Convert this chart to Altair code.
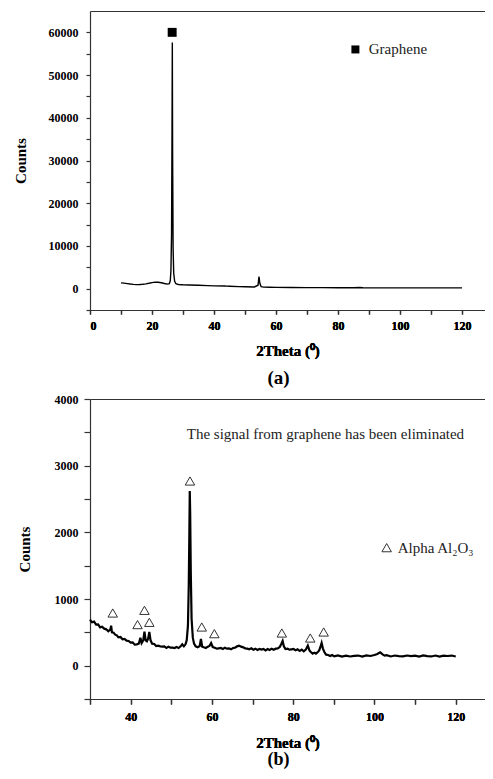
import altair as alt
import pandas as pd

# (a) XRD pattern, graphene powder
theta_a = [10, 11, 12, 13, 14, 15, 16, 17, 18, 19, 20, 21, 22, 23, 24, 25,
           25.6, 25.9, 26.1, 26.3, 26.45, 26.55, 26.65, 26.8, 27.0, 27.3, 27.7,
           28.5, 30, 32, 35, 38, 40, 43.5, 44, 45, 48, 50, 53, 54.2, 54.5, 54.8,
           55.2, 56, 58, 60, 65, 70, 75, 80, 85, 87, 88, 90, 95, 100, 110, 120]
counts_a = [1350, 1280, 1180, 1080, 1000, 950, 960, 1020, 1120, 1260, 1420, 1530, 1480, 1380, 1200, 1050,
            1150, 1900, 4200, 12500, 36000, 57600, 31000, 9500, 3600, 1700, 1150,
            980, 900, 850, 780, 700, 650, 620, 580, 550, 480, 450, 400, 800, 2850, 1200,
            450, 350, 320, 300, 270, 250, 240, 220, 210, 270, 200, 190, 185, 180, 175, 170]

# (b) XRD pattern after removing graphene
theta_b = [30, 30.5, 31, 31.5, 32, 32.5, 33, 33.5, 34, 34.5, 35, 35.2, 35.4, 35.8, 36.2, 36.6,
           37, 37.5, 38, 38.5, 39, 39.5, 40, 40.5, 41, 41.5, 42, 42.4, 42.7, 43.1, 43.4, 43.7,
           44.0, 44.3, 44.6, 44.9, 45.3, 45.8, 46.3, 46.8, 47.3, 47.8, 48.3, 48.8, 49.3, 49.8,
           50.3, 50.8, 51.3, 51.8, 52.3, 52.7, 53.1, 53.5, 53.8, 54.1, 54.3, 54.45, 54.55, 54.65,
           54.8, 55.0, 55.3, 55.6, 56.0, 56.5, 57.0, 57.3, 57.6, 58.0, 58.5, 59.0, 59.4, 59.8,
           60.2, 60.7, 61.2, 61.7, 62.2, 62.7, 63.2, 63.7, 64.2, 64.7, 65.2, 65.7, 66.2, 66.7,
           67.2, 67.7, 68.2, 68.7, 69.2, 69.7, 70.2, 70.7, 71.2, 71.7, 72.2, 72.7, 73.2, 73.7,
           74.2, 74.7, 75.2, 75.7, 76.2, 76.7, 77.1, 77.4, 77.7, 78.1, 78.6, 79.1, 79.6, 80.1,
           80.6, 81.1, 81.6, 82.1, 82.6, 83.1, 83.6, 84.0, 84.4, 84.8, 85.2, 85.6, 86.0, 86.4,
           86.8, 87.0, 87.3, 87.7, 88.1, 88.6, 89.1, 89.6, 90.1, 91, 92, 93, 94, 95, 96, 97,
           98, 99, 100, 100.7, 101.4, 102.0, 102.5, 103, 104, 105, 106, 107, 108, 109, 110,
           111, 112, 113, 114, 115, 116, 117, 118, 119, 120]
counts_b = [690, 650, 660, 615, 620, 575, 585, 555, 545, 515, 540, 600, 500, 495, 465, 455,
            425, 430, 395, 400, 375, 370, 345, 350, 315, 320, 330, 420, 340, 380, 510, 380,
            365, 405, 505, 380, 330, 325, 295, 300, 290, 285, 290, 265, 285, 270,
            270, 265, 280, 265, 290, 320, 290, 320, 380, 600, 1200, 2000, 2620, 2300,
            1400, 700, 420, 330, 290, 275, 295, 400, 285, 275, 265, 285, 295, 340,
            280, 270, 255, 260, 265, 250, 270, 255, 260, 245, 265, 270, 290, 300,
            285, 275, 260, 255, 245, 260, 240, 255, 235, 250, 240, 250, 230, 250,
            235, 255, 240, 255, 260, 280, 330, 370, 290, 250, 255, 240, 245, 250,
            230, 245, 220, 240, 215, 240, 300, 230, 200, 180, 195, 180, 200, 230,
            300, 340, 260, 200, 165, 160, 145, 160, 140, 155, 135, 150, 138, 148, 152, 136,
            155, 145, 160, 175, 200, 170, 150, 158, 138, 152, 142, 140, 152, 143, 150,
            136, 155, 142, 138, 152, 136, 150, 145, 152, 138]

# peak markers
tri_x = [35.6, 41.7, 43.4, 44.6, 54.6, 57.5, 60.6, 77.2, 84.2, 87.5]
tri_y = [790, 616, 830, 650, 2770, 580, 480, 490, 415, 505]

FONT = 'Liberation Serif'
INK = '#333333'

df_a = pd.DataFrame({'theta': theta_a, 'counts': counts_a})
df_b = pd.DataFrame({'theta': theta_b, 'counts': counts_b})
df_tri = pd.DataFrame({'theta': tri_x, 'counts': tri_y})


def make_axis(values, major, title, orient, tick=4, lpad=8, tpad=20):
    return alt.Axis(
        orient=orient,
        values=values,
        labelExpr=f"abs(datum.value) % {major} < 1 ? format(datum.value, 'd') : ''",
        labelOverlap=False,
        tickSize=tick,
        title=title, grid=False,
        labelFont=FONT, labelFontWeight='bold', labelFontSize=12, labelColor='black',
        titleFont=FONT, titleFontWeight='bold', titleFontSize=15, titleColor='black',
        domainColor=INK, tickColor=INK, domainWidth=1.2, tickWidth=1.2,
        labelPadding=lpad, titlePadding=tpad,
    )


# plain line along the top edge of each panel
top_edge = alt.Axis(orient='top', labels=False, ticks=False, title=None, grid=False,
                    domainColor=INK, domainWidth=1.2)

x_title = '2Theta (\u2070)'

# ---- panel (a)
scale_xa = alt.Scale(domain=[0, 127.4], nice=False)
xa = alt.X('theta:Q', scale=scale_xa,
           axis=make_axis(list(range(0, 121, 10)), 20, x_title, 'bottom', lpad=6, tpad=12))
ya = alt.Y('counts:Q', scale=alt.Scale(domain=[-5000, 65000], nice=False),
           axis=make_axis(list(range(-5000, 60001, 5000)), 10000, 'Counts', 'left',
                          tick=4, lpad=8, tpad=20))

line_a = alt.Chart(df_a).mark_line(color='black', strokeWidth=1.4).encode(x=xa, y=ya)
edge_a = alt.Chart(df_a).mark_line(opacity=0).encode(
    x=alt.X('theta:Q', scale=scale_xa, axis=top_edge), y=ya)

sq_df = pd.DataFrame({'theta': [26.5, 85.6], 'counts': [60000, 56000], 'size': [80, 64]})
squares = alt.Chart(sq_df).mark_square(color='black', opacity=1).encode(
    x=xa, y=ya, size=alt.Size('size:Q', scale=None, legend=None))

lab_a = alt.Chart(pd.DataFrame({'theta': [89.9], 'counts': [56000], 'txt': ['Graphene']})).mark_text(
    align='left', baseline='middle', font=FONT, fontSize=15, color='#222'
).encode(x=xa, y=ya, text='txt:N')

panel_a = alt.layer(line_a, edge_a, squares, lab_a).properties(
    width=395, height=299,
    title=alt.TitleParams('(a)', orient='bottom', anchor='middle', font=FONT, fontSize=19,
                          fontWeight='bold', color='black', dx=-9, offset=11)
)

# ---- panel (b)
scale_xb = alt.Scale(domain=[30, 127.2], nice=False)
xb = alt.X('theta:Q', scale=scale_xb,
           axis=make_axis(list(range(30, 121, 10)), 20, x_title, 'bottom', tick=5, lpad=7, tpad=13))
yb = alt.Y('counts:Q', scale=alt.Scale(domain=[-500, 4000], nice=False),
           axis=make_axis(list(range(-500, 4001, 500)), 1000, 'Counts', 'left',
                          tick=6, lpad=6, tpad=22))

line_b = alt.Chart(df_b).mark_line(color='black', strokeWidth=2.2).encode(x=xb, y=yb)
edge_b = alt.Chart(df_b).mark_line(opacity=0).encode(
    x=alt.X('theta:Q', scale=scale_xb, axis=top_edge), y=yb)

tri_all = pd.concat([df_tri, pd.DataFrame({'theta': [103.0], 'counts': [1770]})])
tris = alt.Chart(tri_all).mark_point(shape='triangle-up', filled=False, color=INK,
                                     size=90, strokeWidth=1, opacity=1).encode(x=xb, y=yb)

notes_b = pd.DataFrame({
    'theta': [53.8, 105.7],
    'counts': [3474, 1770],
    'txt': ['The signal from graphene has been eliminated', 'Alpha Al\u2082O\u2083'],
})
lab_b = alt.Chart(notes_b).mark_text(
    align='left', baseline='middle', font=FONT, fontSize=15, color='#222'
).encode(x=xb, y=yb, text='txt:N')

panel_b = alt.layer(line_b, edge_b, tris, lab_b).properties(
    width=395, height=300,
    title=alt.TitleParams('(b)', orient='bottom', anchor='middle', font=FONT, fontSize=18,
                          fontWeight='bold', color='black', dx=-9, offset=1)
)

chart = alt.vconcat(panel_a, panel_b, spacing=5).properties(
    padding={'top': 3, 'left': 5, 'right': 0, 'bottom': 0}
).configure_view(
    strokeWidth=0
)

chart.save("out.html", embed_options={"renderer": "svg", "actions": False})
